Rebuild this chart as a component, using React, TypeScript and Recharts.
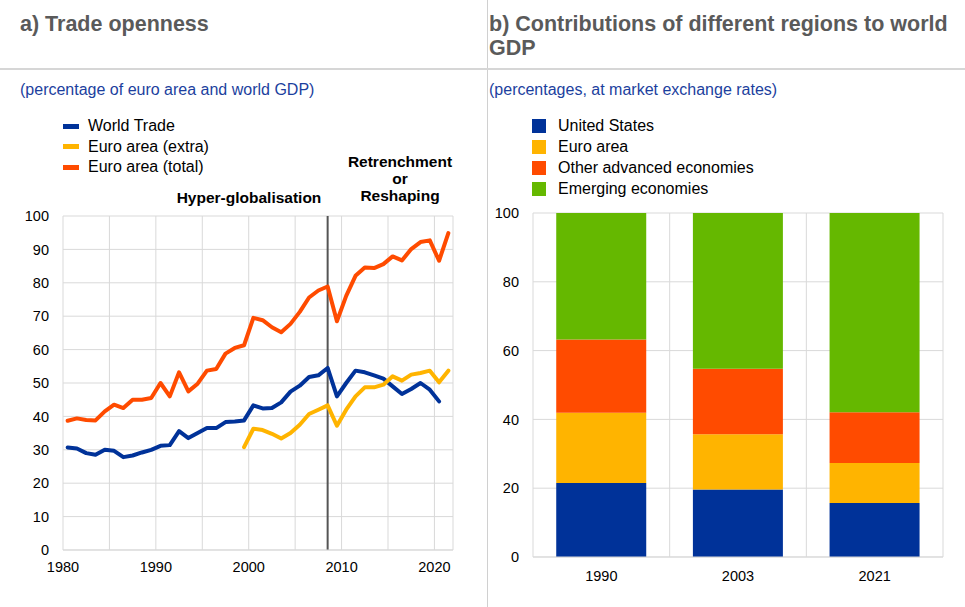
import React from "react";
import {
  Bar,
  BarChart,
  CartesianGrid,
  Line,
  LineChart,
  ReferenceLine,
  XAxis,
  YAxis,
} from "recharts";

const years = [
  1980, 1981, 1982, 1983, 1984, 1985, 1986, 1987, 1988, 1989, 1990, 1991, 1992, 1993,
  1994, 1995, 1996, 1997, 1998, 1999, 2000, 2001, 2002, 2003, 2004, 2005, 2006, 2007,
  2008, 2009, 2010, 2011, 2012, 2013, 2014, 2015, 2016, 2017, 2018, 2019, 2020, 2021,
];

const worldTrade = [
  30.7, 30.4, 29.0, 28.5, 30.0, 29.7, 27.8, 28.3, 29.2, 30.0, 31.2, 31.4, 35.6, 33.5,
  35.0, 36.5, 36.5, 38.3, 38.5, 38.8, 43.3, 42.4, 42.5, 44.2, 47.4, 49.2, 51.8, 52.3,
  54.5, 46.0, 50.0, 53.7, 53.2, 52.3, 51.3, 49.0, 46.7, 48.2, 50.0, 48.0, 44.5, null,
];

const euroExtra = [
  null, null, null, null, null, null, null, null, null, null, null, null, null, null,
  null, null, null, null, null, 30.8, 36.3, 35.9, 34.8, 33.4, 35.0, 37.5, 40.7, 42.0,
  43.3, 37.2, 42.0, 46.0, 48.7, 48.7, 49.5, 52.0, 50.7, 52.5, 53.0, 53.7, 50.2, 53.7,
];

const euroTotal = [
  38.7, 39.4, 38.9, 38.8, 41.5, 43.5, 42.5, 45.0, 45.0, 45.5, 50.0, 46.0, 53.2, 47.5,
  49.8, 53.7, 54.2, 58.8, 60.5, 61.3, 69.5, 68.8, 66.7, 65.2, 67.7, 71.3, 75.6, 77.7,
  78.9, 68.5, 76.1, 82.1, 84.6, 84.4, 85.6, 87.9, 86.7, 90.1, 92.2, 92.7, 86.6, 94.9,
];

const lineSeries = [
  { key: "world", name: "World Trade", color: "#003299", values: worldTrade },
  { key: "extra", name: "Euro area (extra)", color: "#FFB400", values: euroExtra },
  { key: "total", name: "Euro area (total)", color: "#FF4B00", values: euroTotal },
];

const yearTicks = [1980, 1985, 1990, 1995, 2000, 2005, 2010, 2015, 2020];
const yearLabels = [1980, 1990, 2000, 2010, 2020];
const pctTicks = [0, 10, 20, 30, 40, 50, 60, 70, 80, 90, 100];
const crisisYear = 2008;

const barYears = ["1990", "2003", "2021"];
const unitedStates = [21.5, 19.6, 15.7];
const euroArea = [20.4, 16.1, 11.6];
const otherAdvanced = [21.3, 19.0, 14.8];
const emerging = [36.8, 45.3, 57.9];

const barSeries = [
  { key: "us", name: "United States", color: "#003299", values: unitedStates },
  { key: "ea", name: "Euro area", color: "#FFB400", values: euroArea },
  { key: "oae", name: "Other advanced economies", color: "#FF4B00", values: otherAdvanced },
  { key: "eme", name: "Emerging economies", color: "#65B800", values: emerging },
];
const barTicks = [0, 20, 40, 60, 80, 100];

// annual points sit in the middle of each year
const lineData = years.map((y, i) => {
  const row: Record<string, number | null> = { x: y + 0.5 };
  lineSeries.forEach((s) => (row[s.key] = s.values[i]));
  return row;
});

const barData = barYears.map((y, i) => {
  const row: Record<string, string | number> = { year: y };
  barSeries.forEach((s) => (row[s.key] = s.values[i]));
  return row;
});

const FONT = '"Liberation Sans", Arial, sans-serif';
const GRID = "#d9d9d9";
const tick = { fontSize: 14.5, fill: "#000", fontFamily: FONT };

const abs = (left: number, top: number): React.CSSProperties => ({
  position: "absolute",
  left,
  top,
});

const titleStyle: React.CSSProperties = {
  fontWeight: "bold",
  fontSize: 21.5,
  color: "#5a5a5a",
  lineHeight: "24px",
};
const subStyle: React.CSSProperties = { fontSize: 16, color: "#1c3f9e" };
const legendText: React.CSSProperties = { fontSize: 16, color: "#000", lineHeight: "20px" };
const noteStyle: React.CSSProperties = {
  fontWeight: "bold",
  fontSize: 15.5,
  color: "#000",
  textAlign: "center",
  lineHeight: "17px",
};

export default function App() {
  return (
    <div
      style={{
        position: "absolute",
        left: 0,
        top: 0,
        width: 965,
        height: 607,
        background: "#fff",
        fontFamily: FONT,
        overflow: "hidden",
      }}
    >
      {/* panel frame */}
      <div style={{ ...abs(487, 0), width: 1, height: 607, background: "#d0d0d0" }} />
      <div style={{ ...abs(0, 68), width: 965, height: 2, background: "#d6d6d6" }} />

      <div style={{ ...abs(20, 12), ...titleStyle }}>a) Trade openness</div>
      <div style={{ ...abs(489, 12), ...titleStyle, width: 470 }}>
        b) Contributions of different regions to world GDP
      </div>
      <div style={{ ...abs(20, 81), ...subStyle }}>(percentage of euro area and world GDP)</div>
      <div style={{ ...abs(489, 81), ...subStyle }}>(percentages, at market exchange rates)</div>

      {/* left legend */}
      {lineSeries.map((s, i) => (
        <div key={s.key} style={{ ...abs(63, 116 + i * 20.5), display: "flex", alignItems: "center" }}>
          <div style={{ width: 16, height: 5, background: s.color, marginRight: 9 }} />
          <span style={legendText}>{s.name}</span>
        </div>
      ))}

      <div style={{ ...abs(149, 189), width: 200, ...noteStyle }}>Hyper-globalisation</div>
      <div style={{ ...abs(340, 153), width: 120, ...noteStyle }}>
        Retrenchment
        <br />
        or
        <br />
        Reshaping
      </div>

      <div style={abs(0, 206)}>
        <LineChart
          width={470}
          height={380}
          data={lineData}
          margin={{ top: 10, right: 17, bottom: 6, left: 0 }}
        >
          <CartesianGrid stroke={GRID} strokeWidth={1} />
          <XAxis
            dataKey="x"
            type="number"
            domain={[1980, 2022]}
            ticks={yearTicks}
            tickFormatter={(v: number) => (yearLabels.includes(v) ? String(v) : "")}
            interval={0}
            tick={tick}
            tickLine={false}
            tickSize={0}
            tickMargin={12}
            axisLine={{ stroke: GRID }}
            height={30}
          />
          <YAxis
            type="number"
            domain={[0, 100]}
            ticks={pctTicks}
            interval={0}
            tick={tick}
            tickLine={false}
            tickSize={0}
            tickMargin={14}
            axisLine={false}
            width={63}
          />
          <ReferenceLine x={crisisYear + 0.5} stroke="#555" strokeWidth={2} />
          {lineSeries.map((s) => (
            <Line
              key={s.key}
              dataKey={s.key}
              name={s.name}
              type="linear"
              stroke={s.color}
              strokeWidth={4}
              strokeLinejoin="round"
              strokeLinecap="round"
              dot={false}
              activeDot={false}
              connectNulls={false}
              isAnimationActive={false}
            />
          ))}
        </LineChart>
      </div>

      {/* right legend */}
      {barSeries.map((s, i) => (
        <div key={s.key} style={{ ...abs(532, 116 + i * 21), display: "flex", alignItems: "center" }}>
          <div style={{ width: 14, height: 14, background: s.color, marginRight: 12 }} />
          <span style={legendText}>{s.name}</span>
        </div>
      ))}

      <div style={abs(480, 203)}>
        <BarChart
          width={480}
          height={390}
          data={barData}
          barCategoryGap="17%"
          margin={{ top: 10, right: 17, bottom: 6, left: 0 }}
        >
          <CartesianGrid
            stroke={GRID}
            verticalCoordinatesGenerator={({ offset }: any) =>
              barYears.map((_, i) => offset.left + (i * offset.width) / barYears.length).concat(
                offset.left + offset.width
              )
            }
          />
          <XAxis
            dataKey="year"
            tick={tick}
            tickLine={false}
            tickSize={0}
            tickMargin={14}
            axisLine={{ stroke: GRID }}
            height={30}
          />
          <YAxis
            type="number"
            domain={[0, 100]}
            ticks={barTicks}
            interval={0}
            tick={tick}
            tickLine={false}
            tickSize={0}
            tickMargin={14}
            axisLine={false}
            width={53}
          />
          {barSeries.map((s) => (
            <Bar
              key={s.key}
              dataKey={s.key}
              name={s.name}
              stackId="a"
              fill={s.color}
              isAnimationActive={false}
            />
          ))}
        </BarChart>
      </div>
    </div>
  );
}
